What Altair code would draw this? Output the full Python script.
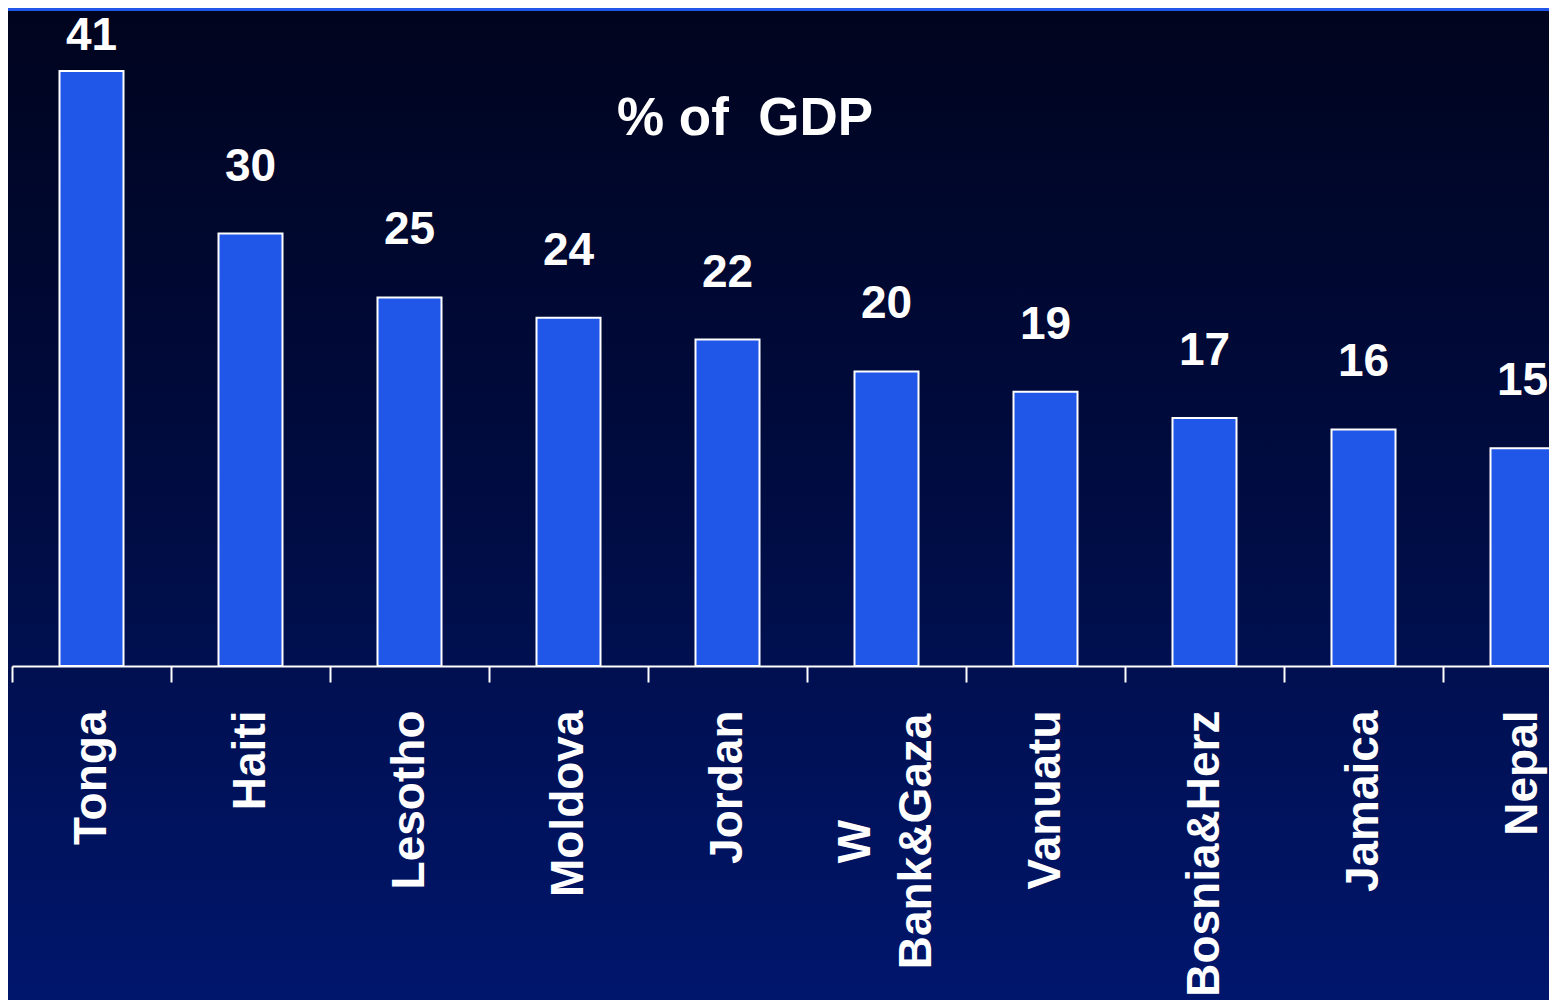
import altair as alt
import pandas as pd

# Data
countries = ["Tonga", "Haiti", "Lesotho", "Moldova", "Jordan", "W Bank&Gaza",
             "Vanuatu", "Bosnia&Herz", "Jamaica", "Nepal"]
values = [41.0, 29.8, 25.4, 24.0, 22.5, 20.3, 18.9, 17.1, 16.3, 15.0]
value_labels = ["41", "30", "25", "24", "22", "20", "19", "17", "16", "15"]
title_text = "% of\u00a0 GDP"

FONT = "Liberation Sans, Arial, Helvetica, sans-serif"
W, H, PLOT_H = 1541, 992, 658
TWO_LINE = "datum.value == 'W Bank&Gaza'"

df = pd.DataFrame({"country": countries, "value": values, "label": value_labels})

x_enc = alt.X(
    "country:N",
    sort=countries,
    scale=alt.Scale(range=[4, 1594], paddingInner=0, paddingOuter=0),
    axis=alt.Axis(
        title=None,
        labelAngle=-90,
        labelFontSize=46,
        labelFont=FONT,
        labelFontWeight="bold",
        labelColor="white",
        labelAlign={"condition": {"test": TWO_LINE, "value": "center"}, "value": "right"},
        labelPadding={"condition": {"test": TWO_LINE, "value": 159}, "value": 28},
        labelOffset={"condition": {"test": TWO_LINE, "value": -31}, "value": 0},
        labelLimit=500,
        labelLineHeight=61,
        labelOverlap=False,
        labelBound=False,
        labelExpr=TWO_LINE + " ? ['W', 'Bank&Gaza'] : datum.value",
        domainColor="white",
        domainWidth=2,
        tickColor="white",
        tickWidth=2,
        tickSize=16,
        tickBand="extent",
        grid=False,
        zindex=1,
    ),
)
y_scale = alt.Scale(domain=[0, 45.35], nice=False, zero=True)

bg = alt.Chart(pd.DataFrame({"k": [0]})).mark_rect(
    fill=alt.Gradient(
        gradient="linear",
        stops=[
            alt.GradientStop(color="#00041e", offset=0),
            alt.GradientStop(color="#000c42", offset=0.5),
            alt.GradientStop(color="#00166c", offset=1),
        ],
        x1=0, x2=0, y1=0, y2=1,
    )
).encode(x=alt.value(0), x2=alt.value(W), y=alt.value(0), y2=alt.value(H))

topline = alt.Chart(pd.DataFrame({"k": [0]})).mark_rule(
    color="#2157e8", strokeWidth=4
).encode(x=alt.value(0), x2=alt.value(W), y=alt.value(1))

bars = alt.Chart(df).mark_bar(
    size=64, color="#2157e9", stroke="white", strokeWidth=2
).encode(
    x=x_enc,
    y=alt.Y("value:Q", scale=y_scale, axis=None),
)

labels = alt.Chart(df).transform_calculate(
    pos="min(datum.value, 38.8)"
).mark_text(
    baseline="alphabetic", dy=-53, fontSize=46, fontWeight="bold",
    font=FONT, color="white"
).encode(
    x=alt.X("country:N", sort=countries),
    y=alt.Y("pos:Q", scale=y_scale, axis=None),
    text="label:N",
)

title = alt.Chart(pd.DataFrame({"t": [title_text]})).mark_text(
    baseline="alphabetic", align="center", fontSize=53, fontWeight="bold",
    font=FONT, color="white"
).encode(x=alt.value(737), y=alt.value(127), text="t:N")

chart = alt.layer(bg, topline, bars, labels, title).properties(
    width=W, height=PLOT_H,
    autosize=alt.AutoSizeParams(type="none"),
    padding={"left": 0, "right": 0, "top": 0, "bottom": H - PLOT_H},
    background="#00041e",
).configure_view(stroke=None)

chart.save("out.html", embed_options={"renderer": "svg", "actions": False})
